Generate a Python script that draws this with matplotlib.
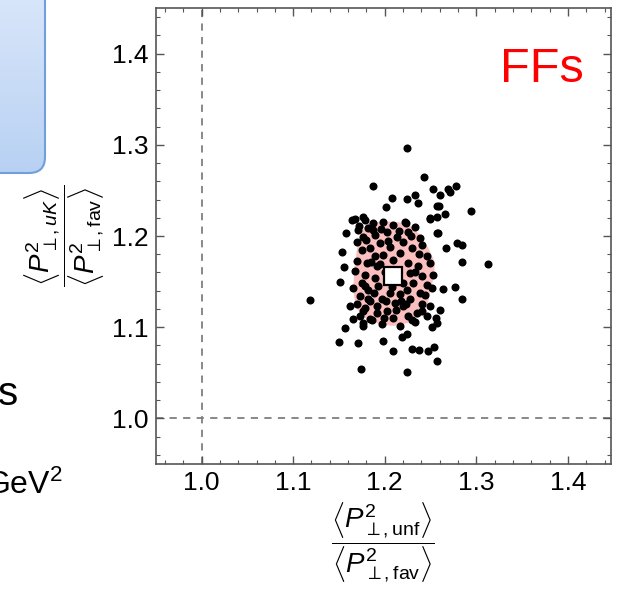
import numpy as np
import matplotlib
matplotlib.use("Agg")
import matplotlib.pyplot as plt
from matplotlib.patches import FancyBboxPatch, Polygon
from matplotlib.ticker import MultipleLocator, FormatStrFormatter
from matplotlib.colors import LinearSegmentedColormap

plt.rcParams['font.family'] = ['Liberation Sans', 'DejaVu Sans']
plt.rcParams['mathtext.fontset'] = 'custom'
plt.rcParams['mathtext.rm'] = 'Liberation Sans'
plt.rcParams['mathtext.it'] = 'Liberation Sans:italic'
plt.rcParams['mathtext.bf'] = 'Liberation Sans:bold'

# replica points: x = <P^2 unf>/<P^2 fav>, y = <P^2 uK>/<P^2 fav>
x_outer = [1.2247, 1.2429, 1.1875, 1.2524, 1.2695, 1.2779, 1.2713, 1.2604, 1.2330, 1.2247,
           1.2367, 1.2076, 1.2014, 1.2567, 1.2596, 1.2658, 1.2567, 1.2494, 1.2939, 1.1646,
           1.1759, 1.1577, 1.2786, 1.2841, 1.2670, 1.1529, 1.1555, 1.1511, 1.2841, 1.3125,
           1.2768, 1.2633, 1.2848, 1.1183, 1.1566, 1.1504, 1.1711, 1.1985, 1.2185, 1.2240,
           1.2087, 1.2294, 1.2378, 1.2476, 1.2542, 1.2575, 1.1737, 1.2247, 1.2604, 1.2560,
           1.2568, 1.2229, 1.2579, 1.1650, 1.1760, 1.1621]
y_outer = [1.2960, 1.2645, 1.2543, 1.2518, 1.2518, 1.2547, 1.2482, 1.2453, 1.2450, 1.2410,
           1.2363, 1.2420, 1.2320, 1.2330, 1.2330, 1.2236, 1.2210, 1.2200, 1.2276, 1.2174,
           1.2210, 1.2029, 1.1921, 1.1903, 1.1874, 1.1820, 1.1657, 1.1498, 1.1715, 1.1693,
           1.1443, 1.1414, 1.1306, 1.1298, 1.0989, 1.0833, 1.0822, 1.0851, 1.0895, 1.0924,
           1.0743, 1.0761, 1.0750, 1.0735, 1.0782, 1.0634, 1.0540, 1.0507, 1.1188, 1.1105,
           1.1051, 1.2145, 1.2036, 1.1087, 1.1050, 1.1232]

x_inner = [1.1676, 1.1785, 1.1876, 1.1985, 1.2094, 1.2222, 1.2331, 1.2495, 1.1712, 1.1821,
           1.1767, 1.1894, 1.2021, 1.2131, 1.2258, 1.2385, 1.2567, 1.1694, 1.1949, 1.2203,
           1.1748, 1.1839, 1.2058, 1.2167, 1.2295, 1.2404, 1.2458, 1.1894, 1.1985, 1.1694,
           1.1803, 1.1912, 1.2094, 1.2258, 1.2367, 1.2495, 1.1676, 1.1785, 1.1894, 1.2276,
           1.2404, 1.2531, 1.1748, 1.2313, 1.2458, 1.1657, 1.1821, 1.1930, 1.2240, 1.2385,
           1.2513, 1.1730, 1.2058, 1.2167, 1.1839, 1.1967, 1.2112, 1.2276, 1.2404, 1.1694,
           1.1785, 1.2203, 1.2495, 1.1912, 1.2021, 1.2349, 1.2094, 1.2258, 1.1730, 1.1839,
           1.2458, 1.1767, 1.1967, 1.2167, 1.2331, 1.2513,
           1.1720, 1.1800, 1.1870, 1.1960, 1.2040, 1.2150, 1.2290, 1.2370, 1.1850, 1.1950,
           1.2000, 1.1780, 1.1880, 1.2200, 1.2330, 1.2440, 1.1820, 1.1920, 1.2010, 1.2120,
           1.2230, 1.2410, 1.1760, 1.1860, 1.1990, 1.2300, 1.2180, 1.2080]
y_inner = [1.2192, 1.2174, 1.2138, 1.2156, 1.2119, 1.2156, 1.2101, 1.2192, 1.2065, 1.2083,
           1.1993, 1.2011, 1.2047, 1.1993, 1.2047, 1.1975, 1.2029, 1.1938, 1.1920, 1.1938,
           1.1848, 1.1866, 1.1884, 1.1812, 1.1866, 1.1902, 1.1776, 1.1776, 1.1794, 1.1721,
           1.1703, 1.1667, 1.1739, 1.1703, 1.1667, 1.1703, 1.1613, 1.1577, 1.1540, 1.1595,
           1.1558, 1.1577, 1.1486, 1.1486, 1.1468, 1.1432, 1.1413, 1.1450, 1.1413, 1.1377,
           1.1432, 1.1341, 1.1377, 1.1359, 1.1287, 1.1305, 1.1269, 1.1305, 1.1251, 1.1251,
           1.1215, 1.1233, 1.1233, 1.1160, 1.1178, 1.1160, 1.1106, 1.1124, 1.1124, 1.1088,
           1.1124, 1.1015, 1.1033, 1.1015, 1.1052, 1.0997,
           1.2110, 1.1960, 1.2070, 1.2080, 1.1950, 1.2060, 1.2000, 1.1800, 1.1720, 1.1690,
           1.1600, 1.1450, 1.1380, 1.1480, 1.1600, 1.1350, 1.1310, 1.1230, 1.1290, 1.1190,
           1.1250, 1.1180, 1.1180, 1.1080, 1.1100, 1.1080, 1.1290, 1.1440]

# 68% region outline
hull_x = [1.1803, 1.1985, 1.2167, 1.2294, 1.2386, 1.2477, 1.2550, 1.2531, 1.2477, 1.2422,
          1.2276, 1.2094, 1.1948, 1.1803, 1.1686, 1.1657, 1.1664, 1.1693, 1.1730]
hull_y = [1.2138, 1.2163, 1.2149, 1.2101, 1.2011, 1.1866, 1.1703, 1.1540, 1.1286, 1.1141,
          1.1051, 1.1014, 1.1033, 1.1087, 1.1214, 1.1395, 1.1612, 1.1830, 1.2011]

best_x, best_y = 1.2086, 1.1566

fig = plt.figure(figsize=(6.17, 5.89), dpi=100)

# slide background bits (pixel coordinates)
bg = fig.add_axes([0, 0, 1, 1], zorder=0)
bg.set_xlim(0, 617)
bg.set_ylim(589, 0)
bg.axis('off')
box = FancyBboxPatch((-40, -40), 85, 213, boxstyle="round,pad=0,rounding_size=16",
                     facecolor='none', edgecolor='#6f9fdc', lw=1.5, zorder=2)
bg.add_patch(box)
grad = np.linspace(0, 1, 256).reshape(-1, 1)
cmap = LinearSegmentedColormap.from_list('bl', ['#dfeafb', '#b8d1f3'])
im = bg.imshow(grad, cmap=cmap, extent=(-40, 45, 173, -40), aspect='auto', zorder=1)
im.set_clip_path(box)
bg.text(18, 405, 's', fontsize=29, ha='right', va='baseline', color='black')
bg.text(63, 494, 'GeV$^2$', fontsize=23, ha='right', va='baseline', color='black')

ax = fig.add_axes([0.2524, 0.2122, 0.738, 0.7742], zorder=1)
ax.set_facecolor('white')
ax.set_xlim(0.95, 1.447)
ax.set_ylim(0.95, 1.45)

ax.axvline(1.0, color='#7f7f7f', lw=1.3, ls=(0, (4.0, 3.5)), zorder=1)
ax.axhline(1.0, color='#7f7f7f', lw=1.3, ls=(0, (4.0, 3.5)), zorder=1)

ax.add_patch(Polygon(np.column_stack([hull_x, hull_y]), closed=True,
                     facecolor='#fbbfbf', edgecolor='none', zorder=2))
ax.plot(x_outer, y_outer, 'o', color='black', ms=5.8, mew=0, zorder=3)
ax.plot(x_inner, y_inner, 'o', color='black', ms=5.8, mew=0, zorder=3)
ax.plot([best_x], [best_y], 's', mfc='white', mec='black', mew=1.6, ms=13.5, zorder=4)

ax.text(0.94, 0.838, 'FFs', transform=ax.transAxes, color='red', fontsize=35,
        ha='right', va='baseline')

ax.xaxis.set_major_locator(MultipleLocator(0.1))
ax.xaxis.set_minor_locator(MultipleLocator(0.02))
ax.yaxis.set_major_locator(MultipleLocator(0.1))
ax.yaxis.set_minor_locator(MultipleLocator(0.02))
ax.xaxis.set_major_formatter(FormatStrFormatter('%.1f'))
ax.yaxis.set_major_formatter(FormatStrFormatter('%.1f'))
ax.tick_params(which='both', direction='in', top=True, right=True, color='#555555')
ax.tick_params(which='major', length=6, width=1.0, labelsize=19, pad=5)
ax.tick_params(which='minor', length=3, width=0.8)
for s in ax.spines.values():
    s.set_color('#555555')
    s.set_linewidth(1.2)

ax.set_xlabel(r'$\dfrac{\left\langle P^2_{\perp,\mathrm{unf}}\right\rangle}'
              r'{\left\langle P^2_{\perp,\mathrm{fav}}\right\rangle}$', fontsize=20, labelpad=4)
ax.set_ylabel(r'$\dfrac{\left\langle P^2_{\perp,uK}\right\rangle}'
              r'{\left\langle P^2_{\perp,\mathrm{fav}}\right\rangle}$', fontsize=20, labelpad=4)

fig.savefig('out.png', dpi=100)
